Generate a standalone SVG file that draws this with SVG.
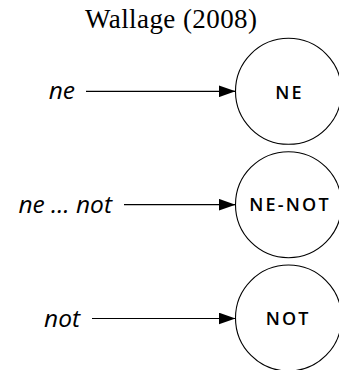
<svg xmlns="http://www.w3.org/2000/svg" width="339" height="370" viewBox="0 0 339 370">
  <style>
    .title { font-family: "Liberation Serif", serif; font-size: 27px; fill: #000; }
    .src { font-family: "Open Sans", "Liberation Sans", sans-serif; font-style: italic; font-size: 24.5px; fill: #000; text-anchor: end; }
    .lbl { font-family: "Open Sans", "Liberation Sans", sans-serif; font-weight: 600; font-size: 18px; letter-spacing: 2.2px; fill: #000; text-anchor: middle; }
    .node { fill: #fff; stroke: #000; stroke-width: 1.1; }
    .edge { stroke: #000; stroke-width: 1.2; fill: none; marker-end: url(#arrow); }
  </style>
  <defs>
    <marker id="arrow" markerUnits="userSpaceOnUse" markerWidth="17" markerHeight="12" refX="17" refY="6" orient="auto">
      <path d="M0,0 L17,6 L0,12 Z" fill="#000"/>
    </marker>
  </defs>
  <rect width="339" height="370" fill="#fff"/>
  <text class="title" x="85" y="28" textLength="172">Wallage (2008)</text>

  <g id="node-ne">
    <circle class="node" cx="288.5" cy="91.3" r="53"/>
    <text class="lbl" x="289.6" y="99">NE</text>
  </g>
  <g id="node-ne-not">
    <circle class="node" cx="288.5" cy="204.7" r="53"/>
    <text class="lbl" x="290" y="211">NE-NOT</text>
  </g>
  <g id="node-not">
    <circle class="node" cx="288.5" cy="318" r="53"/>
    <text class="lbl" x="288.2" y="325">NOT</text>
  </g>

  <g id="sources">
    <text class="src" x="75" y="98.5">ne</text>
    <text class="src" x="112" y="212.5">ne … not</text>
    <text class="src" x="80" y="326.5">not</text>
  </g>

  <g id="connectors">
    <line class="edge" x1="86" y1="91.3" x2="235.5" y2="91.3"/>
    <line class="edge" x1="124" y1="204.7" x2="235.5" y2="204.7"/>
    <line class="edge" x1="92" y1="318.5" x2="235.5" y2="318.5"/>
  </g>
</svg>
